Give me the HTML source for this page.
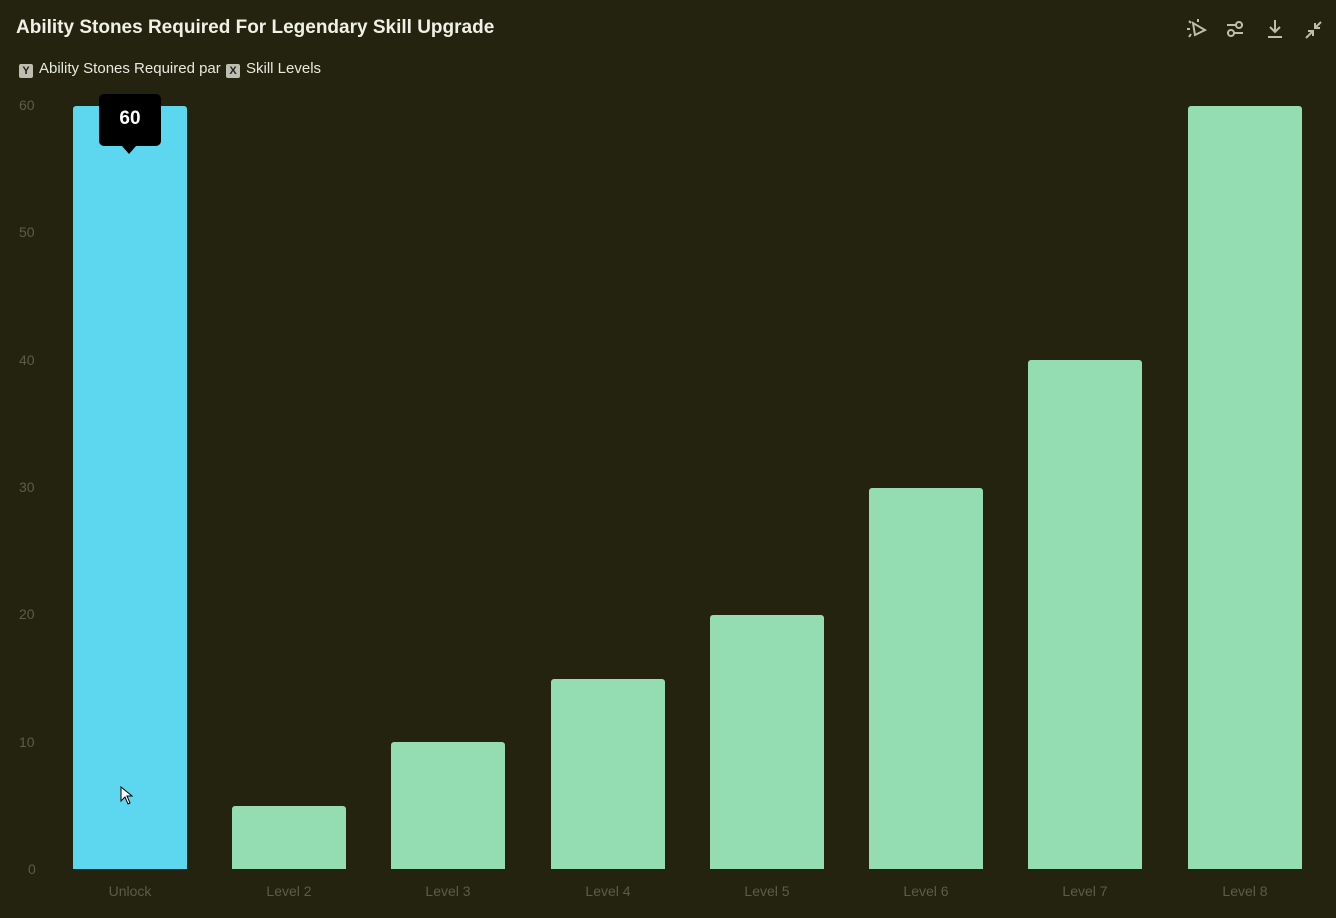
<!DOCTYPE html>
<html><head><style>
body{margin:0;width:1336px;height:918px;background:#23230f;font-family:"Liberation Sans",sans-serif;position:relative;overflow:hidden}
.t{position:absolute;left:16px;top:17px;font-size:19px;font-weight:bold;color:#f0f0e6}
.lg{position:absolute;top:60px;font-size:15px;color:#e8e8de}
.bx{display:inline-block;width:14px;height:14px;background:#bdbdb0;color:#222;font-size:11px;font-weight:bold;text-align:center;line-height:14px;border-radius:2px;margin-right:6px;vertical-align:-1px}
.yl{position:absolute;left:19px;font-size:14px;color:#5c5c48}
.xl{position:absolute;top:883px;font-size:14px;color:#5c5c48;width:114px;text-align:center}
.b{position:absolute;width:114px;background:#94dcb1;border-radius:3px 3px 0 0;bottom:49px}
</style></head><body>
<div class="t">Ability Stones Required For Legendary Skill Upgrade</div>
<div class="lg" style="left:19px"><span class="bx">Y</span>Ability Stones Required par</div>
<div class="lg" style="left:226px"><span class="bx">X</span>Skill Levels</div>
<div class="yl" style="top:97px">60</div>
<div class="yl" style="top:224px">50</div>
<div class="yl" style="top:352px">40</div>
<div class="yl" style="top:479px">30</div>
<div class="yl" style="top:606px">20</div>
<div class="yl" style="top:734px">10</div>
<div class="yl" style="top:861px;left:28px">0</div>
<div class="b" style="left:73px;height:763px;background:#5dd6f0"></div>
<div class="b" style="left:232px;height:63px"></div>
<div class="b" style="left:391px;height:127px"></div>
<div class="b" style="left:551px;height:190px"></div>
<div class="b" style="left:710px;height:254px"></div>
<div class="b" style="left:869px;height:381px"></div>
<div class="b" style="left:1028px;height:509px"></div>
<div class="b" style="left:1188px;height:763px"></div>
<div class="xl" style="left:73px">Unlock</div>
<div class="xl" style="left:232px">Level 2</div>
<div class="xl" style="left:391px">Level 3</div>
<div class="xl" style="left:551px">Level 4</div>
<div class="xl" style="left:710px">Level 5</div>
<div class="xl" style="left:869px">Level 6</div>
<div class="xl" style="left:1028px">Level 7</div>
<div class="xl" style="left:1188px">Level 8</div>
<div style="position:absolute;left:99px;top:94px;width:62px;height:52px;background:#000;border-radius:5px;color:#fff;font-weight:bold;font-size:19px;text-align:center;line-height:50px">60</div>
<div style="position:absolute;left:122px;top:146px;width:0;height:0;border-left:7px solid transparent;border-right:7px solid transparent;border-top:8px solid #000"></div>
<svg style="position:absolute;left:1185px;top:17px" width="140" height="24" fill="none" stroke="#bdbdb0" stroke-width="2">
<path d="M8 6 L10 18 L20 13 Z M4 4 L6 6 M13 2 L13 5 M2 12 L5 12 M4 20 L6 17"/>
<path d="M42 8 H58 M42 16 H58"/><circle cx="54" cy="8" r="3" fill="#23230f"/><circle cx="46" cy="16" r="3" fill="#23230f"/>
<path d="M90 3 V15 M85 10 L90 15 L95 10 M83 20 H97"/>
<path d="M121 21 L128 14 M123 14 H128 V19 M136 5 L130 11 M130 6 V11 H135"/>
</svg>
<svg style="position:absolute;left:120px;top:786px" width="14" height="20"><path d="M1 1 L1 15 L5 11 L8 18 L10 17 L7 10 L12 10 Z" fill="#fff" stroke="#000"/></svg>
</body></html>
